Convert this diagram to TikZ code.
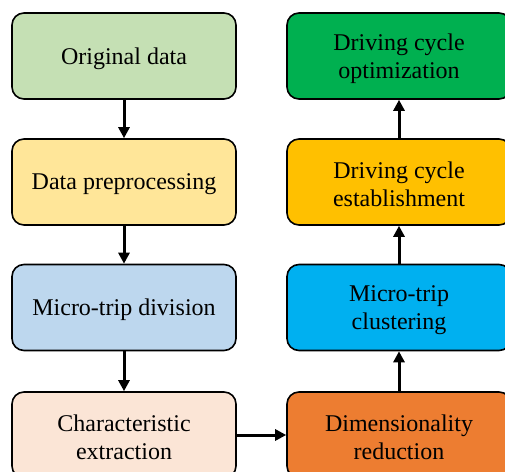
\documentclass[tikz,border=0pt]{standalone}
\usepackage{fontspec}
\setmainfont{Liberation Serif}
\usetikzlibrary{arrows.meta}
\definecolor{cA}{HTML}{C5E0B4}
\definecolor{cB}{HTML}{FFE699}
\definecolor{cC}{HTML}{BDD7EE}
\definecolor{cD}{HTML}{FBE5D6}
\definecolor{cE}{HTML}{00B050}
\definecolor{cF}{HTML}{FFC000}
\definecolor{cG}{HTML}{00B0F0}
\definecolor{cH}{HTML}{ED7D31}
\tikzset{
  flowbox/.style={draw=black, line width=1.6pt, rounded corners=12pt,
    minimum width=224pt, minimum height=86pt, inner sep=0pt},
  boxtext/.style={align=center, font=\fontsize{24}{28.5}\selectfont, yshift=-2.5pt},
  flowarrow/.style={line width=3pt, -{Triangle[length=11pt,width=11pt]}}
}
\begin{document}
\begin{tikzpicture}[x=1pt,y=1pt]
\useasboundingbox (0,0) rectangle (505,471);
\clip (0,0) rectangle (505,471);
\node[flowbox, fill=cA, label={[boxtext]center:Original data}] (a) at (124,415) {};
\node[flowbox, fill=cB, label={[boxtext]center:Data preprocessing}] (b) at (124,289) {};
\node[flowbox, fill=cC, label={[boxtext]center:Micro-trip division}] (c) at (124,163.5) {};
\node[flowbox, fill=cD, label={[boxtext]center:Characteristic\\extraction}] (d) at (124,36) {};
\node[flowbox, fill=cH, label={[boxtext]center:Dimensionality\\reduction}] (e) at (399,36) {};
\node[flowbox, fill=cG, label={[boxtext]center:Micro-trip\\clustering}] (f) at (399,163.5) {};
\node[flowbox, fill=cF, label={[boxtext]center:Driving cycle\\establishment}] (g) at (399,289) {};
\node[flowbox, fill=cE, label={[boxtext]center:Driving cycle\\optimization}] (h) at (399,415) {};
\draw[flowarrow] (a) -- (b);
\draw[flowarrow] (b) -- (c);
\draw[flowarrow] (c) -- (d);
\draw[flowarrow] (d) -- (e);
\draw[flowarrow] (e) -- (f);
\draw[flowarrow] (f) -- (g);
\draw[flowarrow] (g) -- (h);
\end{tikzpicture}
\end{document}
